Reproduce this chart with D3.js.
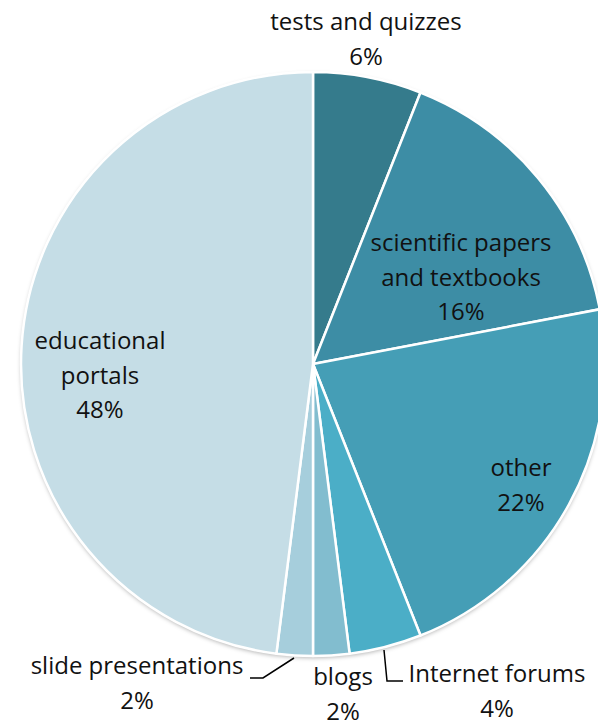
<!DOCTYPE html>
<html><head><meta charset="utf-8">
<script src="https://cdn.jsdelivr.net/npm/d3@7"></script>
<style>body{margin:0;background:#fff}svg{display:block}text{font-family:"Open Sans",sans-serif;font-size:21px;fill:#111}</style>
</head><body>
<svg id="c" width="598" height="722"></svg>
<script>
const categories = ["tests and quizzes","scientific papers and textbooks","other","Internet forums","blogs","slide presentations","educational portals"];
const values = [6,16,22,4,2,2,48];
const colors = ["#357B8C","#3D8DA5","#459EB6","#4BAEC7","#82BDCF","#A6CEDC","#C5DDE6"];
const labelLines = [["tests and quizzes","6%"],["scientific papers","and textbooks","16%"],["other","22%"],["Internet forums","4%"],["blogs","2%"],["slide presentations","2%"],["educational","portals","48%"]];
const labelPos = [[366,24],[461,245],[521,470],[497,676],[343,679],[137,668],[100,343]];

const svg = d3.select("#c");
const cx = 313, cy = 364, R = 292;
const defs = svg.append("defs");
const f = defs.append("filter").attr("id","sh").attr("x","-10%").attr("y","-10%").attr("width","120%").attr("height","120%");
f.append("feDropShadow").attr("dx",0).attr("dy",2).attr("stdDeviation",2).attr("flood-color","#000").attr("flood-opacity",0.3);

const pie = d3.pie().sort(null).value(d=>d);
const arc = d3.arc().innerRadius(0).outerRadius(R);
const g = svg.append("g").attr("transform",`translate(${cx},${cy})`);
g.append("circle").attr("r",R).attr("fill","#fff").attr("filter","url(#sh)");
g.selectAll("path").data(pie(values)).join("path")
  .attr("d",arc).attr("fill",(d,i)=>colors[i]).attr("stroke","#fff").attr("stroke-width",2.5).attr("stroke-linejoin","round");

const texts = [];
labelLines.forEach((lines,i)=>{
  const t = svg.append("text").attr("text-anchor","middle").attr("x",labelPos[i][0]).attr("y",labelPos[i][1]).attr("dominant-baseline","middle");
  lines.forEach((l,j)=>t.append("tspan").attr("x",labelPos[i][0]).attr("dy",j?34.5:0).text(l));
  texts.push(t);
});
// fit font size so "tests and quizzes" measures ~194px as in reference
const w = texts[0].select("tspan").node().getComputedTextLength();
const fs = 21*194/w;
svg.selectAll("text").style("font-size", Math.min(24,Math.max(18,fs))+"px");
// leader lines
svg.append("path").attr("d","M250,678 L263,678 L294,658").attr("fill","none").attr("stroke","#000").attr("stroke-width",1.5);
svg.append("path").attr("d","M384,650 L387,681 L403,681").attr("fill","none").attr("stroke","#000").attr("stroke-width",1.5);
</script>
</body></html>
